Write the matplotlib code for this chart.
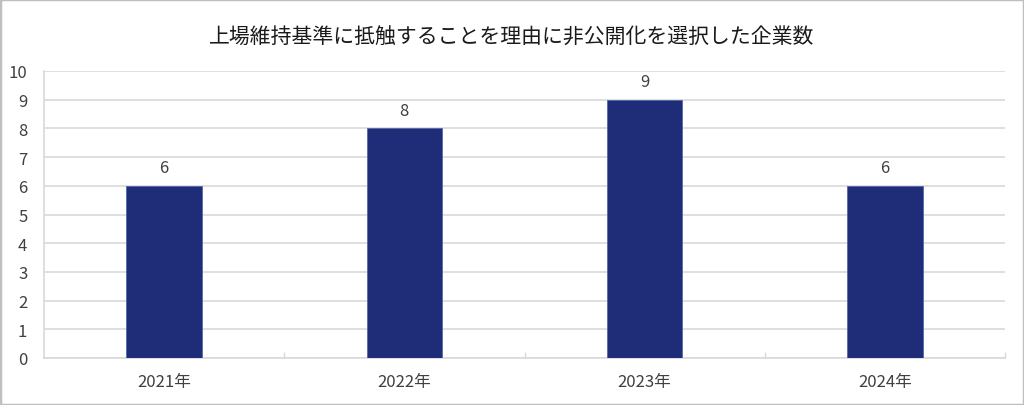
import matplotlib
matplotlib.use("Agg")
import matplotlib.pyplot as plt
from matplotlib.patches import Rectangle

plt.rcParams['font.family'] = ['Noto Sans CJK JP', 'DejaVu Sans']

title = "上場維持基準に抵触することを理由に非公開化を選択した企業数"
categories = ["2021年", "2022年", "2023年", "2024年"]
values = [6, 8, 9, 6]

fig = plt.figure(figsize=(10.24, 4.06), dpi=100)
ax = fig.add_axes([44/1024, 47/406, 961/1024, 287/406])

x = list(range(len(categories)))
bars = ax.bar(x, values, width=0.315, color="#1F2C78", edgecolor="#5566AA", linewidth=0.6, zorder=3)
for xi, v in zip(x, values):
    ax.annotate(str(v), (xi, v), xytext=(0, 7), textcoords="offset points",
                ha="center", va="bottom", fontsize=12, color="#404040")

ax.set_xlim(-0.5, len(categories) - 0.5)
ax.set_ylim(0, 10)
ax.set_yticks(range(0, 11))
ax.set_xticks(x)
ax.set_xticklabels(categories)
ax.tick_params(axis='both', length=0, labelsize=12, labelcolor="#404040")
ax.tick_params(axis='x', pad=11)
ax.tick_params(axis='y', pad=12)
ax.yaxis.grid(True, color="#D9D9D9", linewidth=1.2, zorder=0)
for s in ["top", "right"]:
    ax.spines[s].set_visible(False)
for s in ["left", "bottom"]:
    ax.spines[s].set_color("#D9D9D9")
    ax.spines[s].set_linewidth(1.2)
# category boundary tick marks
ax.set_xticks([i + 0.5 for i in range(len(categories))], minor=True)
ax.tick_params(axis='x', which='minor', length=4, direction='in', color="#D9D9D9", width=1)

fig.text(0.5, 1 - 38/406, title, ha="center", va="center", fontsize=15, color="#1A1A1A")

fig.patches.append(Rectangle((0, 0), 1, 1, transform=fig.transFigure, fill=False,
                             edgecolor="#BFBFBF", linewidth=2.5))

fig.savefig("out.png", dpi=100)
